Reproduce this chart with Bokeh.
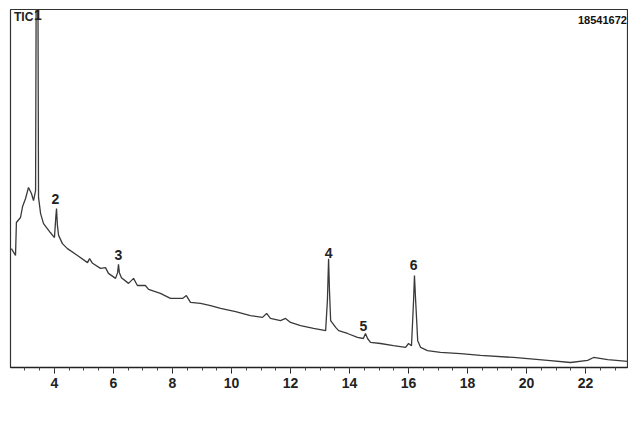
from bokeh.plotting import figure
from bokeh.models import FixedTicker, Label, ColumnDataSource
from bokeh.embed import file_html
from bokeh.resources import INLINE
from bokeh.core.properties import value

# Retention time (min) and TIC intensity (% of full scale 18541672)
time_min = [2.54, 2.68, 2.71, 2.85, 2.92, 3.02, 3.12, 3.22, 3.29, 3.36, 3.38, 3.44, 3.46,
            3.53, 3.63, 3.86, 4.00, 4.05, 4.07, 4.10, 4.14, 4.27, 4.44, 4.78, 5.12, 5.19,
            5.29, 5.56, 5.73, 5.83, 6.07, 6.14, 6.17, 6.20, 6.27, 6.51, 6.68, 6.81, 7.08,
            7.19, 7.59, 7.93, 8.34, 8.47, 8.61, 8.95, 9.29, 9.63, 10.14, 10.64, 11.05,
            11.19, 11.32, 11.66, 11.83, 12.00, 12.34, 12.78, 13.19, 13.25, 13.29, 13.32,
            13.36, 13.53, 13.63, 13.93, 14.27, 14.47, 14.54, 14.61, 14.71, 15.05, 15.49,
            15.90, 16.00, 16.10, 16.17, 16.20, 16.24, 16.31, 16.41, 16.64, 17.08, 17.76,
            18.44, 19.56, 20.71, 21.49, 22.07, 22.27, 22.75, 23.42]
intensity = [33.2, 31.3, 40.5, 41.9, 45.0, 47.2, 50.3, 48.6, 46.6, 49.4, 105.0, 105.0, 47.5,
             43.0, 40.2, 37.7, 36.3, 42.5, 44.4, 39.7, 36.9, 34.6, 33.2, 31.3, 29.3, 30.4,
             29.1, 27.7, 27.9, 26.3, 24.9, 26.5, 28.8, 26.5, 25.1, 23.5, 24.9, 22.9, 22.9,
             21.8, 20.7, 19.3, 19.3, 20.1, 18.2, 17.9, 17.3, 16.5, 15.6, 14.5, 14.0,
             15.1, 13.7, 13.1, 13.7, 12.6, 11.7, 10.9, 10.3, 18.7, 30.4, 21.5,
             13.1, 11.2, 10.3, 9.5, 8.4, 8.1, 9.5, 8.1, 7.0, 6.7, 6.1,
             5.6, 6.7, 6.1, 18.7, 25.7, 18.7, 7.5, 5.6, 4.7, 4.2, 3.9,
             3.4, 2.8, 2.0, 1.4, 2.0, 2.8, 2.2, 1.7]

# Peak labels
peak_names = ["1", "2", "3", "4", "5", "6"]
peak_time = [3.44, 4.03, 6.17, 13.29, 14.47, 16.17]
peak_label_y = [98.6, 47.2, 31.3, 32.1, 11.7, 28.5]

tick_labels = [4, 6, 8, 10, 12, 14, 16, 18, 20, 22]
minor = [2.5 + 0.5 * i for i in range(42)]

p = figure(width=628, height=430, output_backend="svg", toolbar_location=None,
           x_range=(2.51, 23.42), y_range=(0, 100),
           min_border_left=10, min_border_right=1, min_border_top=9, min_border_bottom=63)
p.background_fill_color = "white"
p.border_fill_color = "white"
p.outline_line_color = "#333333"
p.outline_line_width = 1.2
p.grid.visible = False
p.yaxis.visible = False

ax = p.xaxis[0]
ax.ticker = FixedTicker(ticks=tick_labels, minor_ticks=minor)
ax.axis_line_color = "#222222"
ax.axis_line_width = 1.3
ax.major_tick_out = 6
ax.major_tick_in = 0
ax.minor_tick_out = 3
ax.minor_tick_in = 0
ax.major_tick_line_color = "#222222"
ax.minor_tick_line_color = "#444444"
ax.major_label_standoff = 4
ax.major_label_text_font = "Liberation Sans"
ax.major_label_text_font_style = "bold"
ax.major_label_text_font_size = "14px"
ax.major_label_text_color = "#222222"

src = ColumnDataSource(dict(t=time_min, y=intensity))
p.line("t", "y", source=src, line_color="#3a3a3a", line_width=1.3)

lab = ColumnDataSource(dict(t=peak_time, y=peak_label_y, n=peak_names))
p.text("t", "y", text="n", source=lab, text_align="center", text_baseline="middle",
       text_font=value("Liberation Sans"), text_font_style="bold",
       text_font_size="14px", text_color="#222222")

p.add_layout(Label(x=2.63, y=98.0, text="TIC", text_align="left", text_baseline="middle",
                   text_font="Liberation Sans", text_font_style="bold",
                   text_font_size="12px", text_color="#222222"))
p.add_layout(Label(x=23.40, y=97.0, text="18541672", text_align="right", text_baseline="middle",
                   text_font="Liberation Sans", text_font_style="bold",
                   text_font_size="11px", text_color="#111111"))
p.add_layout(Label(x=18.51, y=-12.0, text="Waktu", text_align="center", text_baseline="middle",
                   text_font="Liberation Sans", text_font_style="bold",
                   text_font_size="24px", text_color="#000000"))

open("out.html", "w").write(file_html(p, INLINE))
